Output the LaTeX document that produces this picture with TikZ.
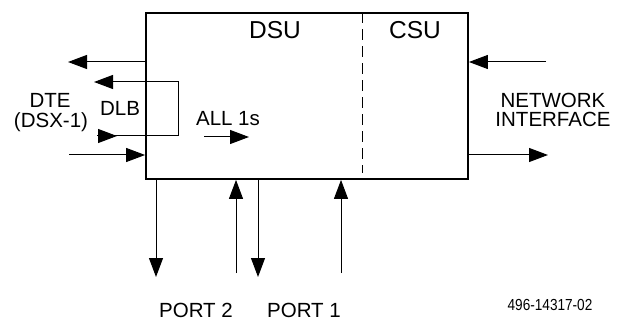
\documentclass[tikz,border=0pt]{standalone}
\usepackage{fontspec}
\setmainfont{Liberation Sans}
\newfontfamily\narrowfont[FakeStretch=0.85]{Liberation Sans}
\usetikzlibrary{arrows.meta}

\begin{document}
\begin{tikzpicture}[x=1pt,y=-1pt,
    sig/.style={-{Triangle[length=19pt,width=14pt]}, line width=1pt},
    lbl/.style={font=\fontsize{20.5}{22}\selectfont, anchor=base, inner sep=0pt},
    big/.style={lbl, font=\fontsize{24.5}{26}\selectfont}]
    \useasboundingbox (0,0) rectangle (617,320);

    % Draw the unit box and the dashed DSU/CSU split
    \node[draw, line width=1.8pt, minimum width=322pt, minimum height=166pt, inner sep=0pt] (unit) at (307,96) {};
    \draw[dash pattern=on 11pt off 6pt, line width=0.9pt] (unit.north -| 362,0) -- (362,173);
    \node[big] (dsu) at (275,39) {DSU};
    \node[big] (csu) at (415,39) {CSU};

    % DTE side
    \coordinate (dteout) at (68,62);
    \coordinate (dtein) at (69,155);
    \draw[sig] (unit.west |- dteout) -- (dteout);
    \draw[sig] (dtein) -- (unit.west |- dtein);
    \node[lbl] (dte) at (50,108) {DTE};
    \node[lbl] (dsx) at (51,128) {(DSX-1)};

    % Loopback path
    \coordinate (dlbout) at (94,82);
    \coordinate (dlbin) at (97,136);
    \draw[sig] (dlbin) -- ++(81,0) |- (dlbout);
    \draw[sig] (dlbin) -- ++(20,0);
    \node[lbl] (dlb) at (120,116) {DLB};

    % All ones
    \coordinate (onesa) at (204,137);
    \coordinate (onesb) at (249,137);
    \draw[sig] (onesa) -- (onesb);
    \node[lbl] (ones) at (228,126) {ALL 1s};

    % Network side
    \coordinate (netin) at (546,62);
    \coordinate (netout) at (548,155);
    \draw[sig] (netin) -- (unit.east |- netin);
    \draw[sig] (unit.east |- netout) -- (netout);
    \node[lbl] (net) at (553,108) {NETWORK};
    \node[lbl] (iface) at (553,127) {INTERFACE};

    % Ports
    \coordinate (ptwoout) at (156,277);
    \coordinate (ptwoin) at (236,273);
    \coordinate (poneout) at (258,277);
    \coordinate (ponein) at (341,273);
    \draw[sig] (unit.south -| ptwoout) -- (ptwoout);
    \draw[sig] (ptwoin) -- (unit.south -| ptwoin);
    \draw[sig] (unit.south -| poneout) -- (poneout);
    \draw[sig] (ponein) -- (unit.south -| ponein);
    \node[lbl] (ptwo) at (196,317) {PORT 2};
    \node[lbl] (pone) at (304,317) {PORT 1};

    % Figure number
    \node[anchor=base, inner sep=0pt, font=\narrowfont\fontsize{16}{18}\selectfont] (fig) at (550,310) {496-14317-02};
\end{tikzpicture}
\end{document}
